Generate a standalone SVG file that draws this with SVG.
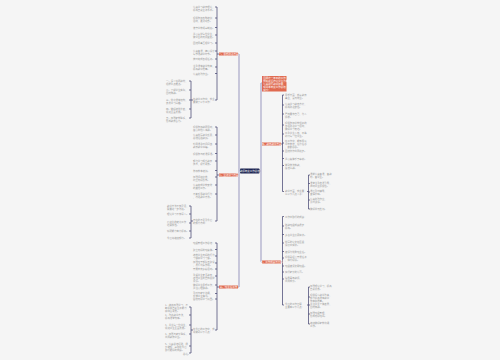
<svg xmlns="http://www.w3.org/2000/svg" width="500" height="360" viewBox="0 0 500 360">
<style>
.t{font-family:"Noto Sans CJK SC","Noto Sans",sans-serif;font-size:2.4px;fill:#9a9a9a}
.w{font-family:"Noto Sans CJK SC","Noto Sans",sans-serif;font-size:2.5px;fill:#ffffff}
.red{fill:#e06a50}
.trunk{fill:none;stroke:#a9a8c8;stroke-width:1.2}
.br{fill:none;stroke:#3c3c6c;stroke-width:0.7}
</style>
<rect width="500" height="360" fill="#f5f5f5"/>
<g id="connectors">
<path class="trunk" d="M239 54V287M239 54H219M239 175H219M239 287H219M240 171H239M259 171H261M261 83V262M261 83H262M261 144H262M261 262H262"/>
<path class="br" d="M219 54H217M217 7V100M217 7H215M217 18H215M217 27.5H215M217 35H215M217 43H215M217 51H215M217 59H215M217 67H215M217 73.5H215M217 100H215"/>
<path class="br" d="M193 100H191M191 81V118M191 81H189M191 90H189M191 100H189M191 109H189M191 118H189"/>
<path class="br" d="M219 175H217M217 127V221M217 127H215M217 135H215M217 144H215M217 153.5H215M217 161H215M217 170.5H215M217 177H215M217 185H215M217 194H215M217 221H215"/>
<path class="br" d="M193 221H191M191 206V238M191 206H189M191 214H189M191 223H189M191 231H189M191 238H189"/>
<path class="br" d="M219 287H217M217 243V330M217 243H215M217 249.5H215M217 256H215M217 263H215M217 269H215M217 276H215M217 285H215M217 293.5H215M217 299H215M217 330H215"/>
<path class="br" d="M193 330H191M191 307V353M191 307H189M191 315H189M191 325H189M191 334H189M191 346H189M191 353H189"/>
<path class="br" d="M281 144H282.5M282.5 95V191.5M282.5 95H284M282.5 105H284M282.5 114H284M282.5 125H284M282.5 134H284M282.5 143H284M282.5 151H284M282.5 158.5H284M282.5 165.5H284M282.5 191.5H284"/>
<path class="br" d="M307 191.5H308.5M308.5 175V209M308.5 175H310M308.5 183.5H310M308.5 192H310M308.5 200H310M308.5 209H310"/>
<path class="br" d="M281 262H282.5M282.5 216.5V305M282.5 216.5H284M282.5 226H284M282.5 234.5H284M282.5 243H284M282.5 251.5H284M282.5 258H284M282.5 266H284M282.5 272H284M282.5 279H284M282.5 305H284"/>
<path class="br" d="M307 305H308.5M308.5 287V324M308.5 287H310M308.5 297H310M308.5 305H310M308.5 314H310M308.5 324H310"/>
</g>
<g id="n-center"><rect x="240" y="168.5" width="19.5" height="5" rx="0.8" fill="#1c2452"/><text class="w" x="249.75" y="172" text-anchor="middle">教师年度工作总结</text></g>
<g id="n-L1"><rect class="red" x="219" y="52.5" width="19" height="3"/><text class="w" x="228.5" y="55" text-anchor="middle" font-size="2.2">一、思想政治方面</text></g>
<g id="n-L2"><rect class="red" x="219" y="173.5" width="19" height="3"/><text class="w" x="228.5" y="176" text-anchor="middle" font-size="2.2">二、业务学习方面</text></g>
<g id="n-L3"><rect class="red" x="219" y="285.5" width="19" height="3"/><text class="w" x="228.5" y="288" text-anchor="middle" font-size="2.2">三、班主任工作</text></g>
<g id="n-R1"><rect class="red" x="262" y="76" width="24.5" height="15.5"/><text class="w" x="263.2" y="79" font-size="2.4"><tspan x="263.2">回顾这一年来的工作</tspan><tspan x="263.2" dy="3">我始终坚持以学生为本</tspan><tspan x="263.2" dy="3">认真履行教师职责，</tspan><tspan x="263.2" dy="3">现将本年度工作总结</tspan><tspan x="263.2" dy="3">如下：</tspan></text></g>
<g id="n-R2"><rect class="red" x="262" y="142.5" width="19" height="3"/><text class="w" x="271.5" y="145" text-anchor="middle" font-size="2.2">四、教育教学方面</text></g>
<g id="n-R3"><rect class="red" x="262" y="260.5" width="19" height="3"/><text class="w" x="271.5" y="263" text-anchor="middle" font-size="2.2">五、工作成绩与打算</text></g>
<g id="n-L1-leaves">
<text class="t" x="193" y="7.5"><tspan x="193">认真学习教育理论，</tspan><tspan x="193" dy="3">提高自身业务水平。</tspan></text>
<text class="t" x="193" y="18.5"><tspan x="193">积极参加各种培训</tspan><tspan x="193" dy="3">活动，更新观念。</tspan></text>
<text class="t" x="193" y="28.5">遵守学校规章制度。</text>
<text class="t" x="193" y="34.5"><tspan x="193">关心爱护每位学生，</tspan><tspan x="193" dy="3">做学生的良师益友。</tspan></text>
<text class="t" x="193" y="44">团结同事互相学习。</text>
<text class="t" x="193" y="51.5"><tspan x="193">认真备课，精心设计</tspan><tspan x="193" dy="3">每节课教学环节。</tspan></text>
<text class="t" x="193" y="60">按时完成各项任务。</text>
<text class="t" x="193" y="67"><tspan x="193">注重课堂教学效率，</tspan><tspan x="193" dy="3">提高教学质量。</tspan></text>
<text class="t" x="193" y="74.5">认真批改作业。</text>
<text class="t" x="193" y="99.5"><tspan x="193">在教学工作中，我主</tspan><tspan x="193" dy="3">要做了以下工作：</tspan></text>
</g>
<g id="n-L1-sub">
<text class="t" x="166" y="81.5"><tspan x="166">一、深入钻研教材，</tspan><tspan x="166" dy="3">把握重点难点。</tspan></text>
<text class="t" x="166" y="90.5"><tspan x="166">二、了解学生实际，</tspan><tspan x="166" dy="3">因材施教。</tspan></text>
<text class="t" x="166" y="100.5"><tspan x="166">三、优化课堂结构，</tspan><tspan x="166" dy="3">激发学习兴趣。</tspan></text>
<text class="t" x="166" y="109.5"><tspan x="166">四、做好培优补差，</tspan><tspan x="166" dy="3">促进全面发展。</tspan></text>
<text class="t" x="166" y="118.5"><tspan x="166">五、加强家校联系，</tspan><tspan x="166" dy="3">形成教育合力。</tspan></text>
</g>
<g id="n-L2-leaves">
<text class="t" x="193" y="127.5"><tspan x="193">积极参加教研活动，</tspan><tspan x="193" dy="3">虚心向他人请教。</tspan></text>
<text class="t" x="193" y="135.5"><tspan x="193">认真撰写教学反思，</tspan><tspan x="193" dy="3">总结经验教训。</tspan></text>
<text class="t" x="193" y="144.5"><tspan x="193">利用课余时间阅读</tspan><tspan x="193" dy="3">教育教学书籍。</tspan></text>
<text class="t" x="193" y="154.5">积极参与听课评课。</text>
<text class="t" x="193" y="161.5"><tspan x="193">努力学习现代教育</tspan><tspan x="193" dy="3">技术，提升素养。</tspan></text>
<text class="t" x="193" y="171.5">参加校本培训。</text>
<text class="t" x="193" y="177.5"><tspan x="193">加强师德修养，</tspan><tspan x="193" dy="3">树立良好形象。</tspan></text>
<text class="t" x="193" y="185.5"><tspan x="193">认真完成学校安排</tspan><tspan x="193" dy="3">的其他工作。</tspan></text>
<text class="t" x="193" y="194.5"><tspan x="193">不断反思教学行为</tspan><tspan x="193" dy="3">，改进教学方法。</tspan></text>
<text class="t" x="193" y="221"><tspan x="193">存在的不足及今后</tspan><tspan x="193" dy="3">的努力方向：</tspan></text>
</g>
<g id="n-L2-sub">
<text class="t" x="167" y="206.5"><tspan x="167">教学方法不够灵活，</tspan><tspan x="167" dy="3">需要进一步改进。</tspan></text>
<text class="t" x="167" y="215">理论学习不够深入。</text>
<text class="t" x="167" y="223"><tspan x="167">后进生的转化工作</tspan><tspan x="167" dy="3">还需加强。</tspan></text>
<text class="t" x="167" y="232">科研能力有待提高。</text>
<text class="t" x="167" y="239">今后将继续努力。</text>
</g>
<g id="n-L3-leaves">
<text class="t" x="193" y="244">班级管理工作总结：</text>
<text class="t" x="193" y="250.5">建立良好的班集体。</text>
<text class="t" x="193" y="256"><tspan x="193">培养学生良好的行为</tspan><tspan x="193" dy="3">习惯和学习习惯。</tspan></text>
<text class="t" x="193" y="263"><tspan x="193">加强班干部队伍建设</tspan><tspan x="193" dy="3">，发挥带头作用。</tspan></text>
<text class="t" x="193" y="270">开展丰富多彩活动。</text>
<text class="t" x="193" y="275.5"><tspan x="193">重视学生安全教育，</tspan><tspan x="193" dy="3">增强学生的自我保护</tspan><tspan x="193" dy="3">意识。</tspan></text>
<text class="t" x="193" y="285.5"><tspan x="193">做好学生思想工作，</tspan><tspan x="193" dy="3">关注心理健康。</tspan></text>
<text class="t" x="193" y="294"><tspan x="193">及时与家长沟通，</tspan><tspan x="193" dy="3">反馈学生情况。</tspan></text>
<text class="t" x="193" y="300">营造良好学习氛围。</text>
<text class="t" x="193" y="330"><tspan x="193">在今后的工作中，我</tspan><tspan x="193" dy="3">将做到以下几点：</tspan></text>
</g>
<g id="n-L3-sub">
<text class="t" x="165" y="306"><tspan x="165">1、继续加强学习，不</tspan><tspan x="165" dy="3">断提高自身业务能力</tspan><tspan x="165" dy="3">和综合素质。</tspan></text>
<text class="t" x="165" y="315.5"><tspan x="165">2、改进教学方法，</tspan><tspan x="165" dy="3">提高课堂效率。</tspan></text>
<text class="t" x="165" y="325.5"><tspan x="165">3、关注每一位学生，</tspan><tspan x="165" dy="3">促进学生全面发展。</tspan></text>
<text class="t" x="165" y="334.5"><tspan x="165">4、加强与家长联系，</tspan><tspan x="165" dy="3">共同教育学生。</tspan></text>
<text class="t" x="165" y="344.5"><tspan x="165">5、认真总结经验，扬</tspan><tspan x="165" dy="3">长避短，争取在今后</tspan><tspan x="165" dy="3">取得更好的成绩。</tspan></text>
<text class="t" x="183" y="354.5">总之。</text>
</g>
<g id="n-R2-leaves">
<text class="t" x="285" y="95.5"><tspan x="285">思想方面：热爱教育</tspan><tspan x="285" dy="3">事业，爱岗敬业。</tspan></text>
<text class="t" x="285" y="105"><tspan x="285">认真学习教育方针，</tspan><tspan x="285" dy="3">提高政治觉悟。</tspan></text>
<text class="t" x="285" y="114.5"><tspan x="285">严格要求自己，为人</tspan><tspan x="285" dy="3">师表。</tspan></text>
<text class="t" x="285" y="124"><tspan x="285">积极参加学校组织的</tspan><tspan x="285" dy="3">各项政治学习活动，</tspan><tspan x="285" dy="3">做好学习笔记。</tspan></text>
<text class="t" x="285" y="134"><tspan x="285">尊重学生人格，平等</tspan><tspan x="285" dy="3">对待每一位学生。</tspan></text>
<text class="t" x="285" y="142"><tspan x="285">在工作中，能够服从</tspan><tspan x="285" dy="3">学校安排，任劳任怨</tspan><tspan x="285" dy="3">，勤勤恳恳。</tspan></text>
<text class="t" x="285" y="152">团结协作共同进步。</text>
<text class="t" x="285" y="159.5">关心集体乐于奉献。</text>
<text class="t" x="285" y="165.5"><tspan x="285">做到依法执教，</tspan><tspan x="285" dy="3">廉洁从教。</tspan></text>
<text class="t" x="285" y="191.5"><tspan x="285">教学方面，我主要</tspan><tspan x="285" dy="3">从以下几点入手：</tspan></text>
</g>
<g id="n-R2-sub">
<text class="t" x="310" y="175"><tspan x="310">课前认真备课，备教</tspan><tspan x="310" dy="3">材、备学生。</tspan></text>
<text class="t" x="310" y="183.5"><tspan x="310">课堂注重启发引导，</tspan><tspan x="310" dy="3">调动学生积极性。</tspan></text>
<text class="t" x="310" y="192"><tspan x="310">课后及时辅导，</tspan><tspan x="310" dy="3">查漏补缺。</tspan></text>
<text class="t" x="310" y="200"><tspan x="310">认真批改作业，</tspan><tspan x="310" dy="3">及时讲评。</tspan></text>
<text class="t" x="310" y="209.8">做好单元检测。</text>
</g>
<g id="n-R3-leaves">
<text class="t" x="285" y="217.5">工作中取得的成绩：</text>
<text class="t" x="285" y="226"><tspan x="285">所教班级成绩稳步</tspan><tspan x="285" dy="3">提高。</tspan></text>
<text class="t" x="285" y="235.5">多名学生比赛获奖。</text>
<text class="t" x="285" y="243"><tspan x="285">撰写的论文在区级</tspan><tspan x="285" dy="3">评比中获奖。</tspan></text>
<text class="t" x="285" y="252.5">被评为优秀班主任。</text>
<text class="t" x="285" y="258"><tspan x="285">积极承担公开课任务</tspan><tspan x="285" dy="3">，获得好评。</tspan></text>
<text class="t" x="285" y="267">班级被评文明班级。</text>
<text class="t" x="285" y="273">获得家长的认可。</text>
<text class="t" x="285" y="279"><tspan x="285">指导青年教师，</tspan><tspan x="285" dy="3">共同成长。</tspan></text>
<text class="t" x="285" y="305"><tspan x="285">今后的工作打算</tspan><tspan x="285" dy="3">主要有以下几点：</tspan></text>
</g>
<g id="n-R3-sub">
<text class="t" x="310" y="287"><tspan x="310">加强理论学习，提高</tspan><tspan x="310" dy="3">自身修养。</tspan></text>
<text class="t" x="310" y="296"><tspan x="310">积极探索教学改革，</tspan><tspan x="310" dy="3">努力提高课堂教学</tspan><tspan x="310" dy="3">效率和质量。</tspan></text>
<text class="t" x="310" y="305"><tspan x="310">关注学生个体差异，</tspan><tspan x="310" dy="3">因材施教。</tspan></text>
<text class="t" x="310" y="314"><tspan x="310">加强班级管理，</tspan><tspan x="310" dy="3">形成良好班风。</tspan></text>
<text class="t" x="310" y="324"><tspan x="310">继续做好家校沟通</tspan><tspan x="310" dy="3">工作。</tspan></text>
</g>
</svg>
